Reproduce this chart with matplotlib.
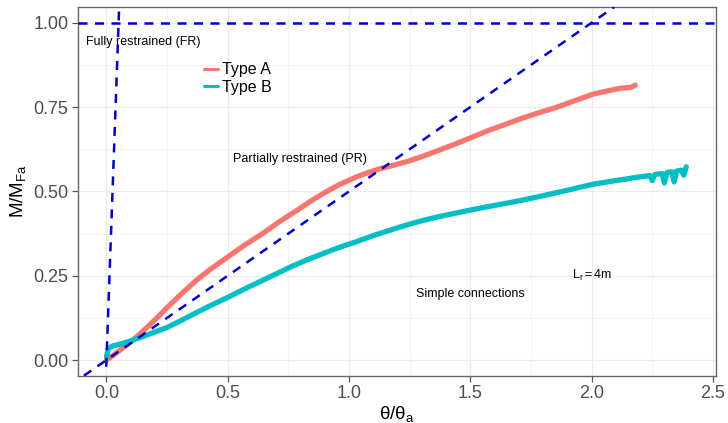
import matplotlib
matplotlib.use("Agg")
import matplotlib.pyplot as plt
from matplotlib.ticker import MultipleLocator

# Type A curve (theta/theta_a, M/M_Fa)
TYPE_A_X = [0.0, 0.03, 0.06, 0.097, 0.13, 0.166, 0.21, 0.248, 0.31, 0.372, 0.43,
            0.495, 0.57, 0.646, 0.71, 0.784, 0.84, 0.894, 0.96, 1.031, 1.08,
            1.127, 1.18, 1.237, 1.30, 1.375, 1.44, 1.512, 1.58, 1.65, 1.71,
            1.773, 1.85, 1.92, 2.005, 2.06, 2.12, 2.16, 2.18]
TYPE_A_Y = [0.0, 0.015, 0.032, 0.052, 0.072, 0.096, 0.126, 0.154, 0.197, 0.237,
            0.270, 0.303, 0.341, 0.376, 0.409, 0.443, 0.470, 0.494, 0.520,
            0.543, 0.556, 0.567, 0.577, 0.588, 0.603, 0.623, 0.641, 0.662,
            0.682, 0.700, 0.716, 0.731, 0.748, 0.766, 0.788, 0.797, 0.806,
            0.808, 0.815]

# Type B curve
TYPE_B_X = [0.0, 0.003, 0.008, 0.027, 0.06, 0.097, 0.17, 0.248, 0.31, 0.372,
            0.43, 0.495, 0.57, 0.646, 0.71, 0.756, 0.82, 0.894, 0.96, 1.031,
            1.10, 1.169, 1.24, 1.306, 1.37, 1.443, 1.51, 1.581, 1.68, 1.773,
            1.88, 2.005, 2.10, 2.199, 2.24, 2.25, 2.26, 2.29, 2.30, 2.31, 2.33,
            2.34, 2.35, 2.37, 2.38, 2.39]
TYPE_B_Y = [0.01, 0.02, 0.035, 0.042, 0.048, 0.056, 0.075, 0.096, 0.118, 0.141,
            0.162, 0.184, 0.211, 0.237, 0.259, 0.275, 0.295, 0.316, 0.334,
            0.351, 0.369, 0.385, 0.401, 0.414, 0.425, 0.436, 0.446, 0.456,
            0.469, 0.483, 0.500, 0.521, 0.532, 0.543, 0.547, 0.532, 0.550,
            0.553, 0.525, 0.556, 0.558, 0.528, 0.560, 0.563, 0.548, 0.573]

# reference lines: FR slope, PR slope, ultimate level
FR_SLOPE = 20.0
PR_SLOPE = 0.5
M_LEVEL = 1.0

X_TICKS = [0.0, 0.5, 1.0, 1.5, 2.0, 2.5]
Y_TICKS = [0.0, 0.25, 0.5, 0.75, 1.0]

RED = "#F8766D"
TEAL = "#00BFC4"
BLUE = "#0000CD"

plt.rcParams["font.family"] = ["Liberation Sans", "DejaVu Sans"]
plt.rcParams["mathtext.fontset"] = "custom"
plt.rcParams["mathtext.rm"] = "Liberation Sans"
plt.rcParams["mathtext.it"] = "Liberation Sans"

fig = plt.figure(figsize=(7.28, 4.23), dpi=100)
ax = fig.add_axes([0.1076, 0.1118, 0.983 - 0.1076, 0.9835 - 0.1118])

xmin, xmax = -0.116, 2.511
ymin, ymax = -0.0465, 1.0466

ax.plot(TYPE_A_X, TYPE_A_Y, color=RED, lw=3.8, solid_capstyle="round",
        solid_joinstyle="round", label="Type A", zorder=3)
ax.plot(TYPE_B_X, TYPE_B_Y, color=TEAL, lw=3.8, solid_capstyle="round",
        solid_joinstyle="round", label="Type B", zorder=3)

dash = (3.6, 3.0)
ax.axhline(M_LEVEL, color=BLUE, lw=1.8, dashes=dash, zorder=4)
fr_x = [-0.001, ymax / FR_SLOPE]
ax.plot(fr_x, [FR_SLOPE * v for v in fr_x], color=BLUE, lw=1.8, dashes=dash,
        zorder=4)
pr_x = [ymin / PR_SLOPE, ymax / PR_SLOPE]
ax.plot(pr_x, [PR_SLOPE * v for v in pr_x], color=BLUE, lw=1.8, dashes=dash,
        zorder=4)

ax.text(-0.086, 0.944, "Fully restrained (FR)", fontsize=9, va="center")
ax.text(0.523, 0.595, "Partially restrained (PR)", fontsize=9, va="center")
ax.text(1.276, 0.196, "Simple connections", fontsize=9, va="center")
ax.text(1.919, 0.25, r"$\mathregular{L_r = 4m}$", fontsize=9, va="center")

ax.set_xlim(xmin, xmax)
ax.set_ylim(ymin, ymax)
ax.set_xticks(X_TICKS)
ax.set_xticklabels([f"{v:.1f}" for v in X_TICKS])
ax.set_yticks(Y_TICKS)
ax.set_yticklabels([f"{v:.2f}" for v in Y_TICKS])
ax.xaxis.set_minor_locator(MultipleLocator(0.25))
ax.yaxis.set_minor_locator(MultipleLocator(0.125))

ax.grid(True, which="major", color="#EBEBEB", lw=0.9)
ax.grid(True, which="minor", color="#F2F2F2", lw=0.6)
ax.set_axisbelow(True)
ax.tick_params(which="major", labelsize=13, labelcolor="#4D4D4D",
               color="#555555", length=4, width=0.9, pad=3)
ax.tick_params(which="minor", length=0)
for s in ax.spines.values():
    s.set_color("#666666")
    s.set_linewidth(1.0)

ax.set_xlabel(r"$\mathregular{\theta/\theta_a}$", fontsize=13.5, labelpad=1)
ax.set_ylabel(r"$\mathregular{M/M_{Fa}}$", fontsize=13.5, labelpad=4)

ax.legend(loc="upper left", bbox_to_anchor=(0.197, 0.85), frameon=False,
          fontsize=11.5, handlelength=0.9, handletextpad=0.25,
          labelspacing=0.15, borderpad=0, borderaxespad=0)
for line in ax.get_legend().get_lines():
    line.set_linewidth(2.2)

fig.savefig("out.png", dpi=100)
